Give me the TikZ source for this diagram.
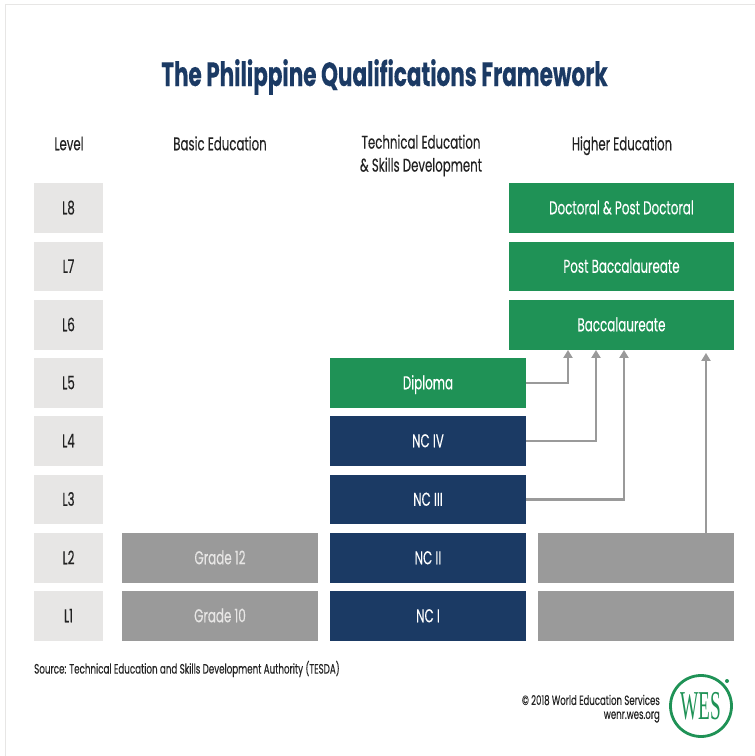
\documentclass[tikz,border=0pt]{standalone}
\usepackage{fontspec}
\usetikzlibrary{arrows.meta}
\setmainfont[FakeStretch=0.64,FakeBold=0.2]{Poppins}
\newfontfamily\wesfont{Liberation Serif}
\definecolor{navy}{HTML}{1B3A64}
\definecolor{wesgreen}{HTML}{1F9256}
\definecolor{lvl}{HTML}{E7E6E5}
\definecolor{midgray}{HTML}{9A9A9A}
\definecolor{ink}{HTML}{222222}
\tikzset{
  box/.style={minimum width=#1,minimum height=49.5pt,inner sep=0pt,text=white,text height=12.5pt,text depth=0pt,font=\fontsize{18.6}{20}\selectfont},
  level/.style={box=69pt,fill=lvl,text=ink},
  navybox/.style={box=196pt,fill=navy},
  greenbox/.style={box=196pt,fill=wesgreen},
  graybox/.style={box=196pt,fill=midgray,text=lvl},
  head/.style={inner sep=0pt,text=ink,align=center,font=\fontsize{18.4}{23}\selectfont},
  headone/.style={head,text height=12.5pt,text depth=0pt},
  link/.style={draw=midgray,line width=2.4pt,-{Triangle[length=8pt,width=9pt]}},
}
\begin{document}
\begin{tikzpicture}[x=1pt,y=-1pt]
\useasboundingbox (0,0) rectangle (755,756);
\draw[draw=lvl,line width=1pt] (5.5,756) -- (5.5,4.5) -- (755,4.5);
\node[inner sep=0pt,text=navy,text height=24pt,text depth=0pt,font=\fontsize{33.6}{36}\selectfont\bfseries] (title) at (384.5,74) {The Philippine Qualifications Framework};
\node[headone] (hl) at (69,144) {Level};
\node[headone] (hb) at (220,144) {Basic Education};
\node[head] (ht) at (421,155.5) {Technical Education\\\& Skills Development};
\node[headone] (hh) at (622,144) {Higher Education};
\foreach \n/\y in {8/208,7/266.5,6/325,5/383,4/441,3/499.5,2/558,1/616}
  \node[level] (l\n) at (68.5,\y) {L\n};
\node[box=225pt,fill=wesgreen] (doc) at (621.5,208) {Doctoral \& Post Doctoral};
\node[box=225pt,fill=wesgreen] (post) at (621.5,266.5) {Post Baccalaureate};
\node[box=225pt,fill=wesgreen] (bacc) at (621.5,325) {Baccalaureate};
\node[greenbox] (dip) at (428,383) {Diploma};
\node[navybox] (nc4) at (428,441) {NC IV};
\node[navybox] (nc3) at (428,499.5) {NC III};
\node[navybox] (nc2) at (428,558) {NC II};
\node[navybox] (nc1) at (428,616) {NC I};
\node[graybox] (g12) at (220,558) {Grade 12};
\node[graybox] (g10) at (220,616) {Grade 10};
\node[graybox] (h2) at (636,558) {};
\node[graybox] (h1) at (636,616) {};
\coordinate (t1) at ([xshift=-53.5pt]bacc.south);
\coordinate (t2) at ([xshift=-25.5pt]bacc.south);
\coordinate (t3) at ([xshift=2.5pt]bacc.south);
\coordinate (t4) at ([xshift=84.5pt,yshift=-3pt]bacc.south);
\draw[link] (dip.east) -| (t1);
\draw[link] (nc4.east) -| (t2);
\draw[link] (nc3.east) -| (t3);
\draw[link] (h2.north -| t4) -- (t4);
\node[anchor=west,inner sep=0pt,text=ink,font=\fontsize{13.65}{15}\selectfont] (src) at (34,669) {Source: Technical Education and Skills Development Authority (TESDA)};
\node[anchor=east,inner sep=0pt,text=ink,font=\fontsize{13.4}{15}\selectfont] (c1) at (660,700) {© 2018 World Education Services};
\node[anchor=east,inner sep=0pt,text=ink,font=\fontsize{13.4}{15}\selectfont] (c2) at (660,717) {wenr.wes.org};
\node[circle,draw=wesgreen,line width=2.8pt,minimum size=61pt,inner sep=0pt,text=wesgreen,font=\wesfont\fontsize{41}{41}\selectfont] (wes) at (701,706) {\scalebox{0.47}[1]{WES}};
\fill[wesgreen] (727,681) circle (2);
\end{tikzpicture}
\end{document}
